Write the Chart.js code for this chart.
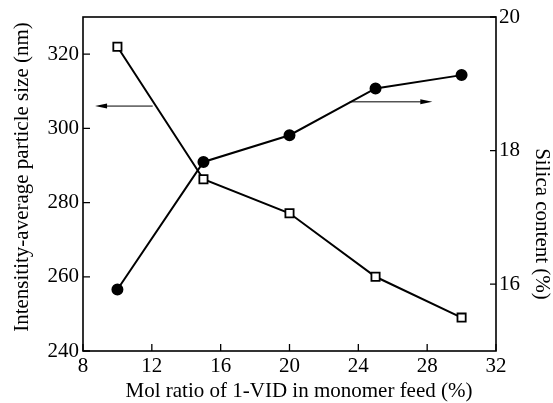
<!DOCTYPE html>
<html>
<head>
<meta charset="utf-8">
<script src="https://cdn.jsdelivr.net/npm/chart.js@4"></script>
<style>
  html, body { margin: 0; padding: 0; background: #fff; }
  #wrap { width: 553px; height: 403px; }
</style>
</head>
<body>
<div id="wrap"><canvas id="chart"></canvas></div>
<script>
// ---- Data ----
const molRatio = [10, 15, 20, 25, 30];
const particleSize = [322, 286.3, 277.1, 260, 249];
const silicaContent = [15.92, 17.83, 18.23, 18.93, 19.13];

const xTicks = [8, 12, 16, 20, 24, 28, 32];
const sizeTicks = [240, 260, 280, 300, 320];
const silicaTicks = [16, 18, 20];

// arrows: [from x, to x, value on its own axis]
const sizeArrow = [12.05, 8.7, 306];
const silicaArrow = [23.5, 28.3, 18.73];

const xTitle = 'Mol ratio of 1-VID in monomer feed (%)';
const sizeTitle = 'Intensitity-average particle size (nm)';
const silicaTitle = 'Silica content (%)';

const FONT = { family: 'Liberation Serif', size: 21 };

// ---- Frame, inward ticks, arrows, axis titles ----
const framePlugin = {
  id: 'frame',
  afterDraw(chart) {
    const { ctx, chartArea: a, scales } = chart;
    ctx.save();
    ctx.strokeStyle = '#000';
    ctx.lineWidth = 1.6;
    ctx.strokeRect(a.left, a.top, a.right - a.left, a.bottom - a.top);

    ctx.lineWidth = 1.3;
    ctx.beginPath();
    xTicks.forEach(v => {
      const px = scales.x.getPixelForValue(v);
      ctx.moveTo(px, a.bottom); ctx.lineTo(px, a.bottom - 7);
    });
    sizeTicks.forEach(v => {
      const py = scales.y.getPixelForValue(v);
      ctx.moveTo(a.left, py); ctx.lineTo(a.left + 7, py);
    });
    silicaTicks.forEach(v => {
      const py = scales.y1.getPixelForValue(v);
      ctx.moveTo(a.right, py); ctx.lineTo(a.right - 6, py);
    });
    ctx.stroke();

    drawArrow(ctx, scales.x, scales.y, sizeArrow);
    drawArrow(ctx, scales.x, scales.y1, silicaArrow);

    // titles
    ctx.fillStyle = '#000';
    ctx.font = `${FONT.size}px "${FONT.family}"`;
    ctx.textAlign = 'center';
    ctx.textBaseline = 'middle';
    ctx.fillText(xTitle, a.left + 216, 391);

    ctx.save();
    ctx.translate(22, a.top + 160);
    ctx.rotate(-Math.PI / 2);
    ctx.fillText(sizeTitle, 0, 0);
    ctx.restore();

    ctx.save();
    ctx.translate(542, a.top + 207);
    ctx.rotate(Math.PI / 2);
    ctx.fillText(silicaTitle, 0, 0);
    ctx.restore();

    ctx.restore();
  }
};

function drawArrow(ctx, xs, ys, arr) {
  const x0 = xs.getPixelForValue(arr[0]);
  const x1 = xs.getPixelForValue(arr[1]);
  const y = ys.getPixelForValue(arr[2]);
  const dir = Math.sign(x1 - x0);
  ctx.lineWidth = 1;
  ctx.beginPath();
  ctx.moveTo(x0, y); ctx.lineTo(x1 - dir * 6, y);
  ctx.stroke();
  ctx.beginPath();
  ctx.moveTo(x1, y);
  ctx.lineTo(x1 - dir * 12, y - 2.5);
  ctx.lineTo(x1 - dir * 12, y + 2.5);
  ctx.closePath();
  ctx.fillStyle = '#000';
  ctx.fill();
}

const sizePoints = molRatio.map((x, i) => ({ x, y: particleSize[i] }));
const silicaPoints = molRatio.map((x, i) => ({ x, y: silicaContent[i] }));

new Chart(document.getElementById('chart'), {
  type: 'line',
  data: {
    datasets: [
      {
        label: 'Intensity-average particle size',
        data: sizePoints,
        yAxisID: 'y',
        borderColor: '#000',
        borderWidth: 2,
        pointStyle: 'rect',
        pointRadius: 5.8,
        pointBorderWidth: 1.8,
        pointBackgroundColor: '#fff',
        pointBorderColor: '#000',
        tension: 0
      },
      {
        label: 'Silica content',
        data: silicaPoints,
        yAxisID: 'y1',
        borderColor: '#000',
        borderWidth: 2,
        pointStyle: 'circle',
        pointRadius: 5,
        pointBackgroundColor: '#000',
        pointBorderColor: '#000',
        tension: 0
      }
    ]
  },
  options: {
    responsive: true,
    maintainAspectRatio: false,
    animation: false,
    layout: { padding: { top: 17, left: 0, right: 0, bottom: 0 } },
    plugins: { legend: { display: false }, tooltip: { enabled: false } },
    scales: {
      x: {
        type: 'linear',
        min: 8, max: 32,
        afterBuildTicks: s => { s.ticks = xTicks.map(v => ({ value: v })); },
        afterFit: s => { s.height = 52; },
        grid: { display: false, drawTicks: false },
        border: { display: false },
        ticks: { color: '#000', font: FONT, padding: 3, maxRotation: 0 }
      },
      y: {
        position: 'left',
        min: 240, max: 330,
        afterBuildTicks: s => { s.ticks = sizeTicks.map(v => ({ value: v })); },
        afterFit: s => { s.width = 83; },
        grid: { display: false, drawTicks: false },
        border: { display: false },
        ticks: { color: '#000', font: FONT, padding: 4 }
      },
      y1: {
        position: 'right',
        min: 15, max: 20,
        afterBuildTicks: s => { s.ticks = silicaTicks.map(v => ({ value: v })); },
        afterFit: s => { s.width = 57; },
        grid: { display: false, drawTicks: false },
        border: { display: false },
        ticks: { color: '#000', font: FONT, padding: 3 }
      }
    }
  },
  plugins: [framePlugin]
});
</script>
</body>
</html>
